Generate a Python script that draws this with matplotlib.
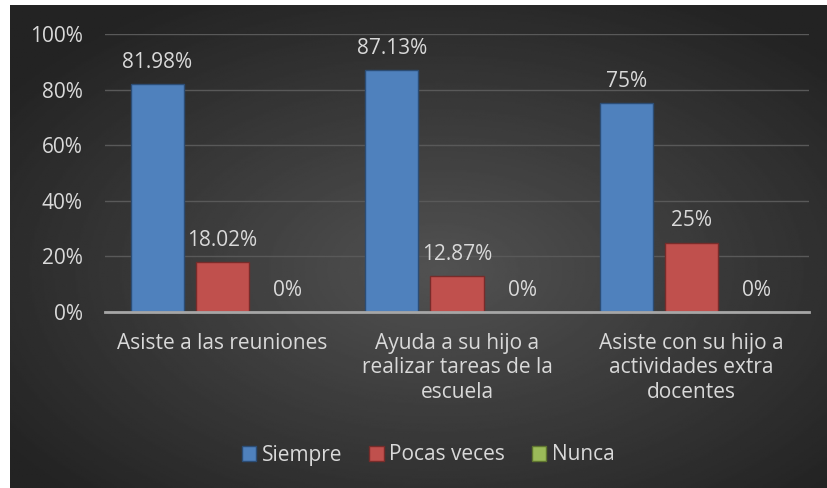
import numpy as np
import matplotlib.pyplot as plt

# chart data
categories = ['Asiste a las reuniones',
              'Ayuda a su hijo a\nrealizar tareas de la\nescuela',
              'Asiste con su hijo a\nactividades extra\ndocentes']
siempre = [81.98, 87.13, 75]
pocas = [18.02, 12.87, 25]
nunca = [0, 0, 0]
series_names = ['Siempre', 'Pocas veces', 'Nunca']
label_text = [['81.98%', '87.13%', '75%'],
              ['18.02%', '12.87%', '25%'],
              ['0%', '0%', '0%']]
yticks = [0, 20, 40, 60, 80, 100]

plt.rcParams['font.family'] = ['Open Sans', 'DejaVu Sans']
txt = '#d9d9d9'
fs = 15

fig = plt.figure(figsize=(8.28, 4.88), dpi=100)
fig.patch.set_facecolor('white')

# dark radial gradient background
bg = fig.add_axes([10 / 828, 0, 1 - 10 / 828, 1 - 5 / 488])
yy, xx = np.mgrid[-1:1:300j, -1:1:500j]
r = np.sqrt((xx - 0.05) ** 2 + (yy - 0.1) ** 2)
shade = np.clip(0.32 - 0.14 * r, 0.14, 0.32)
bg.imshow(shade, cmap='gray', vmin=0, vmax=1, aspect='auto', extent=[0, 1, 0, 1])
bg.set_axis_off()

ax = fig.add_axes([105 / 828, 1 - 312 / 488, 704 / 828, (312 - 34) / 488])
ax.patch.set_alpha(0)

x = np.arange(len(categories))
w = 0.226
step = 0.278
colors = ['#4f81bd', '#c0504d', '#9bbb59']
edges = ['#2c4d75', '#772c2a', '#5f7530']
for i, (vals, name) in enumerate(zip([siempre, pocas, nunca], series_names)):
    pos = x + (i - 1) * step
    ax.bar(pos, vals, w, color=colors[i], edgecolor=edges[i], linewidth=1,
           label=name, zorder=3)
    for p, v, t in zip(pos, vals, label_text[i]):
        ax.annotate(t, (p, v), xytext=(0, 8), textcoords='offset points',
                    ha='center', va='bottom', color=txt, fontsize=fs)

ax.set_xlim(-0.5, 2.5)
ax.set_ylim(0, 100)
ax.set_yticks(yticks)
ax.set_yticklabels([f'{t}%' for t in yticks])
ax.set_xticks(x)
ax.set_xticklabels(categories, linespacing=1.22)
ax.tick_params(axis='both', length=0, colors=txt, labelsize=fs)
ax.tick_params(axis='x', pad=15)
ax.tick_params(axis='y', pad=16)
ax.grid(axis='y', color='#595959', linewidth=1, zorder=0)
for s in ['top', 'right', 'left']:
    ax.spines[s].set_visible(False)
ax.spines['bottom'].set_color('#a6a6a6')
ax.spines['bottom'].set_linewidth(2)
ax.spines['bottom'].set_zorder(4)

leg = fig.legend(loc='center', bbox_to_anchor=(428 / 828, 1 - 455 / 488), ncol=3,
                 frameon=False, fontsize=fs, handlelength=0.7, handleheight=0.7,
                 handletextpad=0.25, columnspacing=1.3)
for t in leg.get_texts():
    t.set_color(txt)

fig.savefig('out.png', dpi=100)
